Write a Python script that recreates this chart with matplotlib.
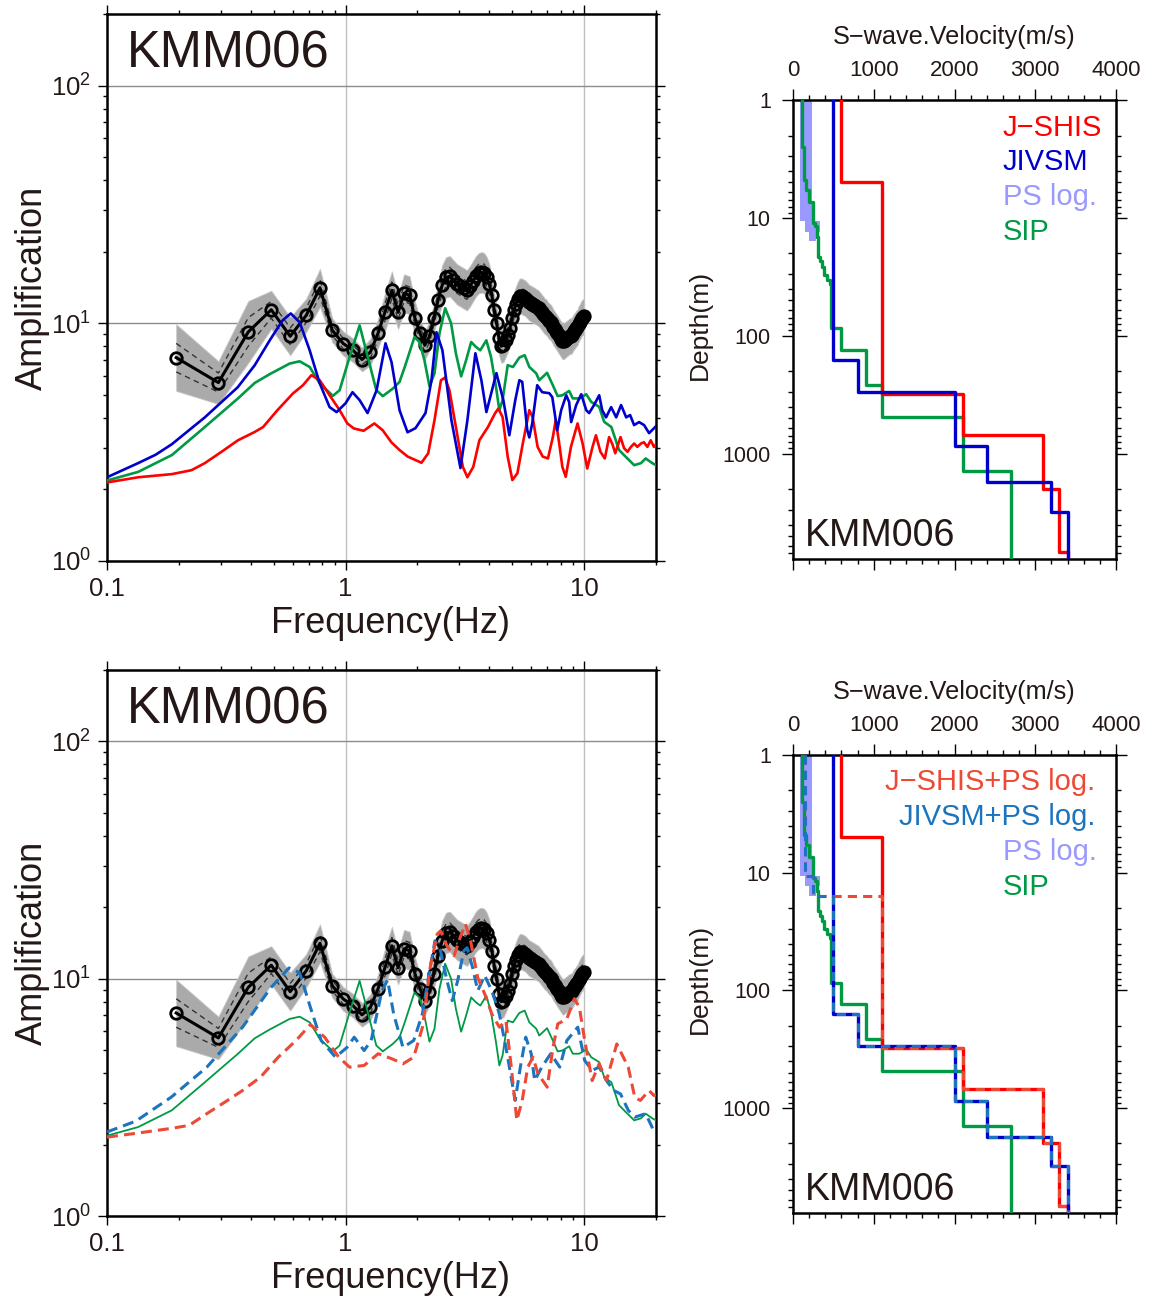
import numpy as np
import matplotlib
matplotlib.use("Agg")
import matplotlib.pyplot as plt
from matplotlib.ticker import LogLocator, FixedLocator, NullFormatter, FuncFormatter, MultipleLocator

plt.rcParams['font.family'] = ['Liberation Sans', 'DejaVu Sans']
plt.rcParams['mathtext.fontset'] = 'custom'
plt.rcParams['mathtext.rm'] = 'Liberation Sans'
plt.rcParams['mathtext.it'] = 'Liberation Sans'
plt.rcParams['mathtext.default'] = 'regular'

SITE = "KMM006"

# ---------------- observed site amplification (k / 10.24 Hz) ----------------
obs_freq = [0.195, 0.293, 0.391, 0.488, 0.586, 0.684, 0.781, 0.879, 0.977, 1.074,
            1.172, 1.270, 1.367, 1.465, 1.563, 1.660, 1.758, 1.855, 1.953, 2.051,
            2.148, 2.246, 2.344, 2.441, 2.539, 2.637, 2.734, 2.832, 2.930, 3.027,
            3.125, 3.223, 3.320, 3.418, 3.516, 3.613, 3.711, 3.809, 3.906, 4.004,
            4.102, 4.199, 4.297, 4.395, 4.492, 4.590, 4.688, 4.785, 4.883, 4.980,
            5.078, 5.176, 5.273, 5.371, 5.469, 5.566, 5.664, 5.762, 5.859, 5.957,
            6.055, 6.152, 6.250, 6.348, 6.445, 6.543, 6.641, 6.738, 6.836, 6.934,
            7.031, 7.129, 7.227, 7.324, 7.422, 7.520, 7.617, 7.715, 7.813, 7.910,
            8.008, 8.105, 8.203, 8.301, 8.398, 8.496, 8.594, 8.691, 8.789, 8.887,
            8.984, 9.082, 9.180, 9.277, 9.375, 9.473, 9.570, 9.668, 9.766, 9.863,
            9.961]
obs_amp = [7.17, 5.63, 9.2, 11.4, 8.82, 10.8, 14.1, 9.35, 8.22, 7.70,
           7.04, 7.57, 9.06, 11.2, 13.76, 11.12, 13.37, 13.11, 10.5, 9.08,
           8.08, 8.82, 10.5, 12.5, 14.45, 15.61, 15.76, 15.16, 14.59, 14.31,
           14.03, 13.76, 14.31, 15.02, 15.76, 16.23, 16.38, 16.23, 15.61, 14.59,
           13.11, 11.34, 10.0, 8.65, 8.01, 8.08, 8.48, 8.9, 9.53, 10.5,
           11.34, 12.02, 12.6, 12.99, 12.99, 12.86, 12.74, 12.5, 12.26, 12.13,
           12.02, 11.9, 11.79, 11.67, 11.56, 11.34, 11.12, 10.91, 10.70, 10.6,
           10.39, 10.2, 10.1, 9.9, 9.62, 9.44, 9.26, 9.08, 8.9, 8.73,
           8.57, 8.40, 8.40, 8.48, 8.57, 8.65, 8.73, 8.82, 8.82, 8.9,
           9.08, 9.26, 9.35, 9.53, 9.62, 9.9, 10.1, 10.29, 10.5, 10.6,
           10.7]
# half-width (log10) of the bundle of individual records
obs_spread = [0.14, 0.09, 0.13, 0.08, 0.08, 0.07, 0.08, 0.05, 0.05, 0.05,
              0.05, 0.055, 0.06, 0.08, 0.08, 0.07, 0.08, 0.08, 0.07, 0.06,
              0.06, 0.06, 0.06, 0.07, 0.085, 0.085, 0.085, 0.085, 0.085, 0.085,
              0.085, 0.085, 0.085, 0.085, 0.085, 0.085, 0.085, 0.085, 0.085, 0.085,
              0.07, 0.07, 0.07, 0.07, 0.07, 0.07, 0.07, 0.07, 0.07, 0.075,
              0.075, 0.075, 0.075, 0.075, 0.075, 0.075, 0.075, 0.075, 0.075, 0.075,
              0.075, 0.075, 0.075, 0.075, 0.075, 0.075, 0.075, 0.075, 0.075, 0.075,
              0.075, 0.075, 0.075, 0.075, 0.075, 0.075, 0.075, 0.075, 0.075, 0.075,
              0.075, 0.075, 0.075, 0.075, 0.075, 0.075, 0.075, 0.075, 0.075, 0.075,
              0.075, 0.075, 0.075, 0.075, 0.075, 0.075, 0.075, 0.075, 0.075, 0.075,
              0.075]
# log10 standard deviation (dashed lines)
obs_sigma = [0.06, 0.04, 0.06, 0.035, 0.035, 0.03, 0.035, 0.022, 0.022, 0.022,
             0.022, 0.025, 0.027, 0.035, 0.035, 0.03, 0.035, 0.035, 0.03, 0.027,
             0.027, 0.027, 0.027, 0.03, 0.038, 0.038, 0.038, 0.038, 0.038, 0.038,
             0.038, 0.038, 0.038, 0.038, 0.038, 0.038, 0.038, 0.038, 0.038, 0.038,
             0.03, 0.03, 0.03, 0.03, 0.03, 0.03, 0.03, 0.03, 0.03, 0.033,
             0.033, 0.033, 0.033, 0.033, 0.033, 0.033, 0.033, 0.033, 0.033, 0.033,
             0.033, 0.033, 0.033, 0.033, 0.033, 0.033, 0.033, 0.033, 0.033, 0.033,
             0.033, 0.033, 0.033, 0.033, 0.033, 0.033, 0.033, 0.033, 0.033, 0.033,
             0.033, 0.033, 0.033, 0.033, 0.033, 0.033, 0.033, 0.033, 0.033, 0.033,
             0.033, 0.033, 0.033, 0.033, 0.033, 0.033, 0.033, 0.033, 0.033, 0.033,
             0.033]

# ---------------- theoretical amplification ----------------
jshis_freq = [0.100, 0.135, 0.187, 0.226, 0.257, 0.302, 0.354, 0.416, 0.451, 0.518,
              0.602, 0.663, 0.719, 0.779, 0.857, 0.944, 1.017, 1.083, 1.19, 1.32,
              1.43, 1.555, 1.683, 1.82, 2.08, 2.22, 2.358, 2.51, 2.61, 2.724,
              2.90, 3.10, 3.24, 3.43, 3.637, 3.95, 4.23, 4.37, 4.55, 4.78,
              5.00, 5.25, 5.53, 5.888, 6.08, 6.38, 6.70, 7.05, 7.39, 7.60,
              7.86, 8.10, 8.37, 8.80, 9.38, 9.85, 10.3, 10.84, 11.2, 11.7,
              12.2, 12.72, 13.1, 13.5, 14.2, 14.7, 15.2, 15.7, 16.2, 16.7,
              17.3, 17.8, 18.4, 19.0, 19.6, 20.0]
jshis_amp = [2.14, 2.25, 2.32, 2.41, 2.58, 2.88, 3.22, 3.49, 3.66, 4.31,
             5.07, 5.49, 6.05, 5.76, 4.98, 4.31, 3.79, 3.61, 3.53, 3.79,
             3.55, 3.16, 2.93, 2.75, 2.59, 2.84, 3.91, 5.76, 5.91, 5.23,
             3.66, 2.49, 2.25, 2.49, 3.22, 3.66, 4.18, 4.38, 4.03, 2.75,
             2.19, 2.34, 3.12, 4.31, 4.03, 3.02, 2.75, 2.70, 3.32, 3.91,
             3.12, 2.49, 2.26, 3.02, 3.79, 3.12, 2.45, 3.02, 3.38, 2.88,
             2.70, 3.32, 3.12, 2.84, 3.32, 2.98, 2.88, 3.02, 3.12, 3.02,
             3.12, 3.16, 3.02, 3.22, 3.02, 3.1]

jivsm_freq = [0.100, 0.135, 0.160, 0.187, 0.257, 0.353, 0.416, 0.481, 0.545, 0.589,
              0.642, 0.707, 0.779, 0.857, 0.917, 1.00, 1.069, 1.145, 1.236, 1.349,
              1.47, 1.558, 1.683, 1.818, 1.963, 2.162, 2.291, 2.404, 2.546, 2.777,
              3.03, 3.24, 3.50, 3.708, 3.892, 4.286, 4.584, 4.857, 5.143, 5.35,
              5.50, 5.775, 5.89, 6.06, 6.356, 6.67, 7.14, 7.35, 7.71, 8.01,
              8.41, 8.65, 8.82, 9.26, 9.72, 10.2, 10.49, 11.0, 11.56, 11.9,
              12.35, 12.97, 13.62, 14.28, 15.0, 15.58, 16.19, 16.99, 17.83, 18.71,
              19.25, 20.0]
jivsm_amp = [2.25, 2.58, 2.80, 3.10, 4.02, 5.38, 6.66, 8.48, 10.3, 11.0,
             10.1, 7.70, 5.59, 4.44, 4.23, 4.61, 5.13, 4.75, 4.19, 5.23,
             8.24, 6.86, 4.31, 3.48, 3.62, 4.19, 5.76, 9.17, 7.70, 3.91,
             2.46, 3.91, 7.48, 5.76, 4.23, 6.17, 4.75, 3.38, 4.75, 5.76,
             5.67, 3.55, 3.31, 3.80, 5.49, 5.13, 5.08, 4.89, 3.55, 4.31,
             4.98, 4.66, 3.84, 4.53, 5.03, 4.31, 4.19, 4.53, 4.98, 4.31,
             4.02, 4.44, 4.02, 4.53, 4.02, 4.11, 3.73, 3.84, 3.73, 3.45,
             3.55, 3.69]

sip_freq = [0.100, 0.135, 0.187, 0.257, 0.354, 0.416, 0.481, 0.583, 0.642, 0.707,
            0.779, 0.885, 0.944, 1.039, 1.145, 1.239, 1.345, 1.432, 1.577, 1.683,
            1.77, 1.944, 2.04, 2.14, 2.247, 2.358, 2.474, 2.614, 2.768, 2.90,
            3.05, 3.20, 3.36, 3.52, 3.67, 3.89, 4.07, 4.27, 4.41, 4.55,
            4.78, 5.03, 5.20, 5.346, 5.63, 5.89, 6.30, 6.48, 6.99, 7.39,
            7.74, 8.10, 8.65, 8.96, 9.53, 10.2, 10.7, 11.56, 12.13, 13.0,
            14.0, 14.9, 16.2, 17.3, 18.1, 19.3, 20.0]
sip_amp = [2.18, 2.37, 2.79, 3.66, 4.83, 5.61, 6.11, 6.77, 6.92, 6.55,
           5.58, 4.95, 5.23, 7.21, 9.8, 7.21, 5.23, 4.94, 5.31, 5.67,
           6.55, 8.75, 8.34, 6.99, 5.43, 6.15, 9.06, 11.57, 10.0, 7.46,
           5.98, 6.99, 8.34, 7.95, 7.70, 8.48, 7.21, 5.40, 4.31, 4.75,
           6.66, 6.55, 6.88, 7.17, 7.34, 6.55, 6.15, 5.76, 6.19, 5.49,
           4.94, 4.98, 5.19, 4.83, 4.83, 5.03, 4.67, 4.45, 3.85, 3.66,
           2.93, 2.75, 2.53, 2.58, 2.70, 2.58, 2.53]

jshis_ps_freq = [0.100, 0.132, 0.186, 0.221, 0.262, 0.312, 0.370, 0.44, 0.522, 0.62,
                 0.712, 0.817, 0.936, 1.039, 1.196, 1.37, 1.57, 1.74, 1.93, 2.10,
                 2.26, 2.42, 2.50, 2.66, 2.85, 3.02, 3.18, 3.34, 3.58, 3.83,
                 4.10, 4.41, 4.70, 4.95, 5.22, 5.50, 5.80, 6.10, 6.40, 7.00,
                 7.40, 7.75, 8.45, 9.10, 9.55, 10.05, 10.8, 11.56, 12.4, 13.7,
                 15.3, 16.3, 17.2, 18.7, 19.6, 20.0]
jshis_ps_amp = [2.15, 2.23, 2.34, 2.41, 2.70, 3.02, 3.38, 3.85, 4.67, 5.49,
                6.41, 5.67, 4.67, 4.24, 4.31, 4.83, 4.59, 4.38, 4.67, 6.25,
                11.1, 15.4, 15.9, 13.76, 12.5, 14.9, 17.0, 14.45, 10.1, 8.62,
                7.11, 6.25, 6.66, 4.24, 2.53, 3.07, 4.24, 4.67, 3.98, 3.49,
                5.13, 6.45, 6.76, 8.24, 7.57, 5.49, 3.72, 4.38, 3.72, 5.31,
                4.24, 3.16, 3.07, 3.38, 3.22, 3.25]

jivsm_ps_freq = [0.100, 0.132, 0.186, 0.262, 0.370, 0.4875, 0.579, 0.642, 0.712, 0.79,
                 0.907, 1.013, 1.087, 1.196, 1.28, 1.42, 1.50, 1.59, 1.74, 1.93,
                 2.10, 2.26, 2.37, 2.50, 2.66, 2.80, 2.95, 3.13, 3.23, 3.41,
                 3.58, 3.83, 4.10, 4.41, 4.70, 5.14, 5.40, 5.69, 6.00, 6.20,
                 6.64, 7.24, 7.90, 8.46, 9.40, 10.05, 10.8, 11.56, 12.4, 13.3,
                 14.2, 15.3, 16.3, 18.1, 19.4, 20.0]
jivsm_ps_amp = [2.26, 2.51, 3.17, 4.24, 6.25, 9.2, 11.1, 10.6, 7.57, 5.49,
                4.67, 5.13, 5.67, 4.98, 5.49, 8.9, 9.87, 7.11, 5.13, 5.49,
                7.13, 11.1, 14.45, 13.11, 9.81, 8.08, 9.81, 13.11, 13.5, 11.1,
                8.9, 10.3, 8.9, 7.11, 5.13, 3.07, 4.24, 5.67, 4.83, 3.72,
                4.24, 4.83, 4.24, 5.49, 6.25, 4.52, 4.11, 4.24, 3.72, 3.38,
                3.27, 2.79, 2.61, 2.70, 2.33, 2.25]

# ---------------- S-wave velocity models (layer top depth [m], Vs [m/s]) ----------------
DEPTH_MAX = 7800
jshis_top = [1, 5, 310, 695, 2000, 6850]
jshis_vs = [600, 1100, 2100, 3100, 3300, 3400]
jivsm_top = [1, 160, 300, 867, 1750, 3120]
jivsm_vs = [500, 800, 2000, 2400, 3200, 3400]
sip_top = [1, 2.5, 4.8, 5.8, 7.3, 11.1, 11.8, 14.4, 21.3, 23.4, 25.9, 30.4, 33.5,
           36, 86, 131, 260, 489, 1412]
sip_vs = [111, 140, 164, 193, 243, 267, 296, 304, 337, 358, 379, 420, 453,
          474, 593, 906, 1100, 2100, 2700]
pslog_top = [1, 10.7, 13.1]
pslog_bottom = 15.8
pslog_vmin = [82, 152, 193]
pslog_vmax = [234, 337, 288]
jshis_ps_top = [1, 10.7, 15.7, 310, 695, 2000, 6850]
jshis_ps_vs = [152, 243, 1100, 2100, 3100, 3300, 3400]
jivsm_ps_top = [1, 10.7, 15.7, 160, 300, 867, 1750, 3120]
jivsm_ps_vs = [152, 243, 500, 800, 2000, 2400, 3200, 3400]

# ---------------- colours ----------------
C_RED = '#ff0000'
C_BLUE = '#0000cc'
C_GREEN = '#009944'
C_PS = '#9999ff'
C_RED2 = '#ec4a36'
C_BLUE2 = '#1b74bd'
C_TEXT = '#231815'

W, H = 1150, 1299
fig = plt.figure(figsize=(W / 100, H / 100), dpi=100)


def frac_box(left, top, right, bottom):
    return [left / W, 1 - bottom / H, (right - left) / W, (bottom - top) / H]


def staircase(tops, vs, bottom):
    ends = list(tops[1:]) + [bottom]
    xs, ys = [], []
    for t, b, v in zip(tops, ends, vs):
        xs += [v, v]
        ys += [t, b]
    return xs, ys


def amp_axes(box):
    ax = fig.add_axes(box)
    ax.set_xscale('log')
    ax.set_yscale('log')
    ax.set_xlim(0.1, 20)
    ax.set_ylim(1, 200)
    ax.xaxis.set_major_locator(FixedLocator([0.1, 1, 10]))
    ax.xaxis.set_minor_locator(LogLocator(base=10, subs=np.arange(2, 10), numticks=20))
    ax.xaxis.set_major_formatter(FuncFormatter(lambda v, p: {0.1: '0.1', 1: '1', 10: '10'}.get(round(v, 3), '')))
    ax.xaxis.set_minor_formatter(NullFormatter())
    ax.yaxis.set_major_locator(FixedLocator([1, 10, 100]))
    ax.yaxis.set_minor_locator(LogLocator(base=10, subs=np.arange(2, 10), numticks=20))
    ax.yaxis.set_major_formatter(FuncFormatter(lambda v, p: r'$10^{%d}$' % round(np.log10(v))))
    ax.yaxis.set_minor_formatter(NullFormatter())
    ax.tick_params(which='both', direction='out', top=True, right=True, width=1.0,
                   colors='black', labelcolor=C_TEXT)
    ax.tick_params(which='major', length=6.5, labelsize=18.5, pad=5)
    ax.tick_params(which='minor', length=3.2)
    ax.xaxis.grid(True, which='major', color='#c0c0c0', lw=1.0)
    ax.yaxis.grid(True, which='major', color='#8c8c8c', lw=1.0)
    for s in ax.spines.values():
        s.set_linewidth(1.8)
    ax.set_xlabel('Frequency(Hz)', fontsize=26, color=C_TEXT)
    ax.xaxis.set_label_coords(0.517, -0.083)
    ax.set_ylabel('Amplification', fontsize=26, color=C_TEXT)
    ax.yaxis.set_label_coords(-0.104, 0.5)
    ax.text(0.036, 0.902, SITE, transform=ax.transAxes, fontsize=36.5, color=C_TEXT)
    return ax


def draw_observed(ax):
    f = np.array(obs_freq)
    a = np.array(obs_amp)
    sp = np.array(obs_spread)
    sg = np.array(obs_sigma)
    ax.fill_between(f, a * 10 ** (-sp), a * 10 ** sp, color='#aaaaaa', lw=0.6,
                    edgecolor='#c8c8c8', zorder=2)
    ax.plot(f, a * 10 ** sg, color='#333333', lw=1.0, ls=(0, (4, 3)), zorder=3)
    ax.plot(f, a * 10 ** (-sg), color='#333333', lw=1.0, ls=(0, (4, 3)), zorder=3)
    ax.plot(f, a, color='black', lw=2.2, marker='o', ms=8.3, mfc='none', mec='black',
            mew=2.0, zorder=4)


def vel_axes(box):
    ax = fig.add_axes(box)
    ax.set_yscale('log')
    ax.set_xlim(0, 4000)
    ax.set_ylim(DEPTH_MAX, 1)
    ax.xaxis.set_major_locator(MultipleLocator(1000))
    ax.xaxis.set_minor_locator(MultipleLocator(200))
    ax.yaxis.set_major_locator(FixedLocator([1, 10, 100, 1000]))
    ax.yaxis.set_minor_locator(LogLocator(base=10, subs=np.arange(2, 10), numticks=20))
    ax.yaxis.set_major_formatter(FuncFormatter(lambda v, p: '%d' % round(v)))
    ax.yaxis.set_minor_formatter(NullFormatter())
    ax.xaxis.tick_top()
    ax.tick_params(which='both', direction='out', top=True, bottom=True, left=True, right=True,
                   labeltop=True, labelbottom=False, width=1.0, labelcolor=C_TEXT)
    ax.tick_params(which='major', length=8, pad=6)
    ax.tick_params(axis='x', which='major', labelsize=16)
    ax.tick_params(axis='y', which='major', labelsize=15.5, pad=8)
    ax.tick_params(which='minor', length=3.8)
    for s in ax.spines.values():
        s.set_linewidth(1.8)
    ax.set_xlabel('S\u2212wave.Velocity(m/s)', fontsize=18.2, color=C_TEXT)
    ax.xaxis.set_label_position('top')
    ax.xaxis.set_label_coords(0.5, 1.122)
    ax.set_ylabel('Depth(m)', fontsize=19, color=C_TEXT)
    ax.yaxis.set_label_coords(-0.25, 0.51)
    ax.text(0.037, 0.028, SITE, transform=ax.transAxes, fontsize=27, color=C_TEXT)
    return ax


def draw_pslog(ax):
    ends = list(pslog_top[1:]) + [pslog_bottom]
    ys, x1, x2 = [], [], []
    for t, b, lo, hi in zip(pslog_top, ends, pslog_vmin, pslog_vmax):
        ys += [t, b]
        x1 += [lo, lo]
        x2 += [hi, hi]
    ax.fill_betweenx(ys, x1, x2, color=C_PS, lw=0, zorder=1)


# ===================== top row =====================
ax1 = amp_axes(frac_box(107, 14, 656, 561))
draw_observed(ax1)
ax1.plot(sip_freq, sip_amp, color=C_GREEN, lw=1.9, zorder=5)
ax1.plot(jivsm_freq, jivsm_amp, color=C_BLUE, lw=1.9, zorder=6)
ax1.plot(jshis_freq, jshis_amp, color=C_RED, lw=1.9, zorder=5)

ax2 = vel_axes(frac_box(793, 100, 1116, 559))
draw_pslog(ax2)
ax2.plot(*staircase(sip_top, sip_vs, DEPTH_MAX), color=C_GREEN, lw=2.4, zorder=3)
ax2.plot(*staircase(jshis_top, jshis_vs, DEPTH_MAX), color=C_RED, lw=2.4, zorder=4)
ax2.plot(*staircase(jivsm_top, jivsm_vs, DEPTH_MAX), color=C_BLUE, lw=2.4, zorder=5)
leg_top = [('J\u2212SHIS', C_RED), ('JIVSM', C_BLUE), ('PS log.', C_PS), ('SIP', C_GREEN)]
for i, (t, c) in enumerate(leg_top):
    ax2.text(0.65, 0.922 - i * 0.0755, t, transform=ax2.transAxes, color=c, fontsize=21)

# ===================== bottom row =====================
ax3 = amp_axes(frac_box(107, 670, 656, 1216))
draw_observed(ax3)
ax3.plot(sip_freq, sip_amp, color=C_GREEN, lw=1.3, zorder=5)
ax3.plot(jivsm_ps_freq, jivsm_ps_amp, color=C_BLUE2, lw=2.2, ls=(0, (3.6, 2.0)), zorder=6)
ax3.plot(jshis_ps_freq, jshis_ps_amp, color=C_RED2, lw=2.2, ls=(0, (3.6, 2.0)), zorder=7)

ax4 = vel_axes(frac_box(793, 755, 1116, 1213))
draw_pslog(ax4)
ax4.plot(*staircase(sip_top, sip_vs, DEPTH_MAX), color=C_GREEN, lw=2.4, zorder=3)
ax4.plot(*staircase(jshis_top, jshis_vs, DEPTH_MAX), color=C_RED, lw=2.4, zorder=4)
ax4.plot(*staircase(jivsm_top, jivsm_vs, DEPTH_MAX), color=C_BLUE, lw=2.4, zorder=5)
ax4.plot(*staircase(jshis_ps_top, jshis_ps_vs, DEPTH_MAX), color=C_RED2, lw=2.2,
         ls=(0, (3, 2)), zorder=6)
ax4.plot(*staircase(jivsm_ps_top, jivsm_ps_vs, DEPTH_MAX), color=C_BLUE2, lw=2.2,
         ls=(0, (3, 2)), zorder=7)
leg_bot = [('J\u2212SHIS+PS log.', C_RED2, 'right'), ('JIVSM+PS log.', C_BLUE2, 'right'),
           ('PS log.', C_PS, 'left'), ('SIP', C_GREEN, 'left')]
for i, (t, c, ha) in enumerate(leg_bot):
    x = 0.936 if ha == 'right' else 0.65
    ax4.text(x, 0.924 - i * 0.0765, t, transform=ax4.transAxes, color=c, fontsize=21, ha=ha)

fig.savefig('out.png', dpi=100)
